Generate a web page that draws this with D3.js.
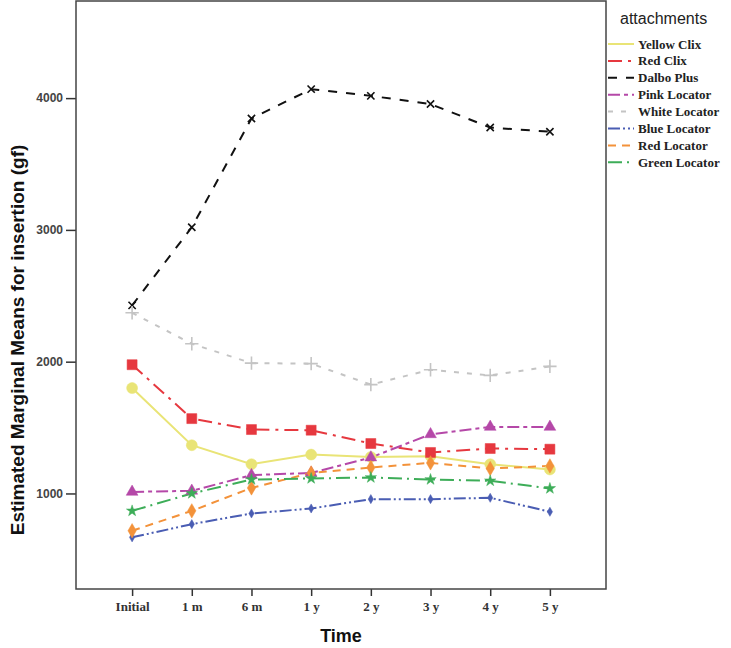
<html>
    <script src='https://d3js.org/d3.v7.min.js'></script>
    <style> body {margin: 0; background: white} </style>
    <head>
    </head>
    <body onload='init()'>
        <svg width=731 height=648>
        </svg>
        <script>
            var times = ['Initial', '1 m', '6 m', '1 y', '2 y', '3 y', '4 y', '5 y'];
            var yTicks = [1000, 2000, 3000, 4000];
            var seriesNames = ['Yellow Clix', 'Red Clix', 'Dalbo Plus', 'Pink Locator', 'White Locator', 'Blue Locator', 'Red Locator', 'Green Locator'];
            var yellowClix = [1800, 1366, 1222, 1295, 1277, 1283, 1222, 1182];
            var redClix = [1977, 1568, 1485, 1480, 1379, 1311, 1341, 1336];
            var dalboPlus = [2427, 3020, 3845, 4068, 4017, 3955, 3777, 3745];
            var pinkLocator = [1012, 1020, 1139, 1156, 1273, 1449, 1505, 1505];
            var whiteLocator = [2371, 2136, 1989, 1985, 1826, 1939, 1896, 1964];
            var blueLocator = [667, 767, 848, 886, 957, 957, 967, 861];
            var redLocator = [717, 868, 1042, 1156, 1197, 1232, 1189, 1209];
            var greenLocator = [868, 1000, 1106, 1114, 1121, 1106, 1096, 1038];

            var marginLeft = 76;
            var marginTop = 1;
            var chartWidth = 530;
            var chartHeight = 588;

            function init() {
                var svg = d3.select('svg');
                var allValues = [yellowClix, redClix, dalboPlus, pinkLocator, whiteLocator, blueLocator, redLocator, greenLocator];

                // line / marker look for each series
                var styles = [
                    {color: '#e9e476', dash: null, symbol: d3.symbolCircle, size: 95, stroke: false},
                    {color: '#e6383f', dash: '14,6,3,6', symbol: d3.symbolSquare, size: 100, stroke: false},
                    {color: '#111111', dash: '9,9', symbol: d3.symbolX, size: 36, stroke: true},
                    {color: '#b548a8', dash: '12,4,4,4', symbol: d3.symbolTriangle, size: 60, stroke: false},
                    {color: '#c4c4c4', dash: '5,8', symbol: d3.symbolPlus, size: 60, stroke: true},
                    {color: '#4a5db3', dash: '12,3,2,3,2,3', symbol: d3.symbolDiamond, size: 24, stroke: false},
                    {color: '#f3923a', dash: '8,6', symbol: d3.symbolDiamond, size: 60, stroke: false},
                    {color: '#3dad58', dash: '14,5,2,5', symbol: d3.symbolStar, size: 40, stroke: false}
                ];

                var x = d3.scalePoint().domain(times).range([0, chartWidth]).padding(0.94);
                var y = d3.scaleLinear().domain([275, 4737]).range([chartHeight, 0]);

                var plot = svg.append('g')
                  .attr('transform', 'translate(' + marginLeft + ',' + marginTop + ')');

                /**
                 * Axes
                 */
                var yAxis = plot.append('g')
                  .call(d3.axisLeft(y).tickValues(yTicks).tickSize(10).tickFormat(d3.format('d')));
                yAxis.select('.domain').remove();
                yAxis.selectAll('line').style('stroke', '#333').style('stroke-width', 1.5);
                yAxis.selectAll('text')
                  .style('font-family', 'Liberation Sans')
                  .style('font-weight', 'bold')
                  .style('font-size', 12)
                  .style('fill', '#444');

                var xAxis = plot.append('g')
                  .attr('transform', 'translate(0,' + chartHeight + ')')
                  .call(d3.axisBottom(x).tickSize(7).tickPadding(6));
                xAxis.select('.domain').remove();
                xAxis.selectAll('line').style('stroke', '#333').style('stroke-width', 1.5);
                xAxis.selectAll('text')
                  .style('font-family', 'Liberation Serif')
                  .style('font-weight', 'bold')
                  .style('font-size', 13)
                  .style('fill', '#333');

                // frame
                plot.append('rect')
                  .attr('width', chartWidth)
                  .attr('height', chartHeight)
                  .style('fill', 'none')
                  .style('stroke', '#444')
                  .style('stroke-width', 1.5);

                /**
                 * Series lines
                 */
                var line = d3.line()
                  .x(function(d, i) { return x(times[i]); })
                  .y(function(d) { return y(d); });

                allValues.forEach(function(values, idx) {
                    plot.append('path')
                      .datum(values)
                      .attr('d', line)
                      .style('fill', 'none')
                      .style('stroke', styles[idx].color)
                      .style('stroke-width', 2)
                      .style('stroke-dasharray', styles[idx].dash);
                });

                /**
                 * Series markers
                 */
                allValues.forEach(function(values, idx) {
                    var st = styles[idx];
                    plot.append('g')
                      .selectAll('path')
                      .data(values)
                      .enter()
                      .append('path')
                      .attr('transform', function(d, i) { return 'translate(' + x(times[i]) + ',' + y(d) + ')'; })
                      .attr('d', d3.symbol().type(st.symbol).size(st.size))
                      .style('fill', st.stroke ? 'none' : st.color)
                      .style('stroke', st.color)
                      .style('stroke-width', st.stroke ? 1.6 : 0.5);
                });

                /**
                 * Axis titles
                 */
                svg.append('text')
                  .attr('text-anchor', 'middle')
                  .attr('transform', 'translate(24,340)rotate(-90)')
                  .style('font-family', 'Liberation Sans')
                  .style('font-weight', 'bold')
                  .style('font-size', 19)
                  .style('fill', '#111')
                  .text('Estimated Marginal Means for insertion (gf)');

                svg.append('text')
                  .attr('text-anchor', 'middle')
                  .attr('x', marginLeft + chartWidth / 2)
                  .attr('y', 642)
                  .style('font-family', 'Liberation Sans')
                  .style('font-weight', 'bold')
                  .style('font-size', 18)
                  .style('fill', '#111')
                  .text('Time');

                /**
                 * Legend
                 */
                svg.append('text')
                  .attr('x', 620)
                  .attr('y', 24)
                  .style('font-family', 'Liberation Sans')
                  .style('font-size', 16)
                  .style('fill', '#222')
                  .text('attachments');

                var legend = svg.append('g')
                  .selectAll('g')
                  .data(seriesNames)
                  .enter()
                  .append('g')
                  .attr('transform', function(d, idx) { return 'translate(608,' + (44 + idx * 16.9) + ')'; });

                legend.append('line')
                  .attr('x1', 0)
                  .attr('x2', 26)
                  .style('stroke', function(d, idx) { return styles[idx].color; })
                  .style('stroke-width', 2)
                  .style('stroke-dasharray', function(d, idx) { return styles[idx].dash; });

                legend.append('text')
                  .attr('x', 30)
                  .attr('dy', '0.35em')
                  .style('font-family', 'Liberation Serif')
                  .style('font-weight', 'bold')
                  .style('font-size', 13)
                  .style('fill', '#222')
                  .text(function(d) { return d; });
            }
        </script>
    </body>
</html>
